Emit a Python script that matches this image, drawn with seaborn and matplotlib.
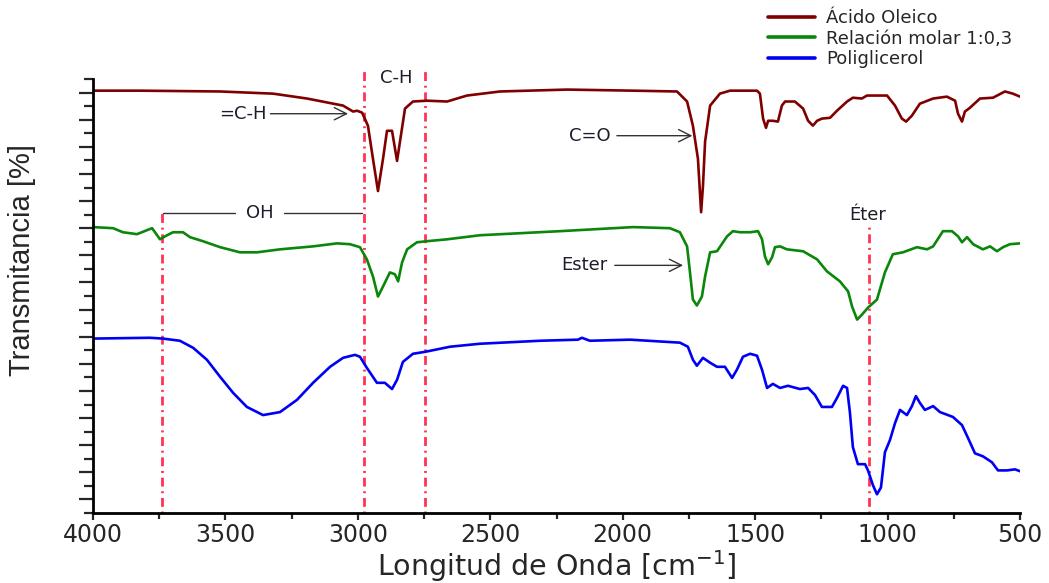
import matplotlib
matplotlib.use("Agg")
import matplotlib.pyplot as plt
from matplotlib.lines import Line2D
from matplotlib.ticker import MultipleLocator
from matplotlib import font_manager
import pandas as pd
import seaborn as sns

# FTIR spectra: wavenumber (cm-1) and stacked transmittance (offset units)
oleico_wn = [4000, 3823, 3520, 3320, 3192, 3056, 3018, 3003, 2984, 2962, 2943, 2924,
             2905, 2890, 2871, 2852, 2841, 2822, 2792, 2739, 2663, 2588, 2463, 2210,
             1961, 1795, 1757, 1735, 1716, 1704, 1697, 1689, 1670, 1633, 1595, 1493,
             1482, 1470, 1459, 1451, 1433, 1414, 1399, 1387, 1350, 1319, 1300, 1282,
             1266, 1248, 1217, 1191, 1153, 1131, 1097, 1078, 1002, 972, 946, 930,
             908, 878, 828, 776, 745, 734, 719, 708, 689, 651, 602, 557, 527, 500]
oleico_t = [15.07, 15.07, 15.04, 14.96, 14.78, 14.52, 14.30, 14.33, 14.26, 13.78, 12.56, 11.37,
            12.56, 13.59, 13.59, 12.48, 13.19, 14.41, 14.67, 14.70, 14.67, 14.89, 15.04, 15.11,
            15.07, 15.04, 14.67, 13.78, 12.56, 10.59, 11.56, 13.19, 14.52, 14.96, 15.07, 15.07,
            14.96, 14.04, 13.70, 13.96, 13.96, 13.93, 14.52, 14.67, 14.67, 14.41, 13.96, 13.78,
            13.96, 14.04, 14.07, 14.33, 14.67, 14.81, 14.78, 14.89, 14.89, 14.52, 14.04, 13.93,
            14.15, 14.59, 14.78, 14.85, 14.70, 14.22, 13.93, 14.30, 14.44, 14.78, 14.81, 15.04, 14.96, 14.85]

relacion_wn = [4000, 3924, 3887, 3834, 3777, 3747, 3728, 3698, 3660, 3634, 3585, 3520,
               3445, 3381, 3294, 3169, 3079, 3030, 2992, 2966, 2943, 2924, 2905, 2879,
               2860, 2848, 2833, 2814, 2777, 2739, 2663, 2539, 2237, 1961, 1822, 1784,
               1757, 1746, 1735, 1720, 1701, 1689, 1670, 1644, 1606, 1584, 1557, 1519,
               1489, 1474, 1463, 1451, 1436, 1425, 1406, 1380, 1319, 1266, 1229, 1180,
               1149, 1134, 1115, 1097, 1074, 1040, 1010, 980, 942, 889, 851, 828,
               791, 757, 734, 719, 700, 677, 640, 613, 587, 564, 538, 500]
relacion_t = [10.04, 10.00, 9.85, 9.78, 10.00, 9.59, 9.70, 9.85, 9.85, 9.67, 9.52, 9.30,
              9.11, 9.11, 9.22, 9.33, 9.44, 9.41, 9.30, 8.85, 8.22, 7.48, 7.85, 8.37,
              8.30, 8.04, 8.74, 9.22, 9.48, 9.52, 9.59, 9.74, 9.89, 10.04, 10.00, 9.85,
              9.33, 8.37, 7.37, 7.15, 7.48, 8.22, 9.11, 9.15, 9.70, 9.89, 9.85, 9.85,
              9.89, 9.59, 8.96, 8.67, 8.93, 9.30, 9.33, 9.22, 9.15, 8.85, 8.41, 8.04,
              7.67, 7.11, 6.63, 6.81, 7.07, 7.37, 8.37, 9.04, 9.11, 9.30, 9.22, 9.33,
              9.89, 9.89, 9.70, 9.48, 9.67, 9.41, 9.22, 9.33, 9.15, 9.30, 9.41, 9.44]

poli_wn = [4000, 3785, 3736, 3672, 3622, 3570, 3520, 3471, 3419, 3358, 3294, 3230,
           3169, 3105, 3056, 3011, 2992, 2966, 2928, 2898, 2871, 2852, 2830, 2792,
           2747, 2652, 2539, 2312, 2169, 2154, 2124, 1972, 1784, 1754, 1735, 1720,
           1697, 1670, 1644, 1614, 1587, 1569, 1546, 1519, 1493, 1474, 1455, 1433,
           1406, 1376, 1331, 1300, 1274, 1248, 1210, 1191, 1168, 1153, 1142, 1131,
           1112, 1085, 1074, 1055, 1040, 1025, 1010, 991, 972, 953, 927, 908,
           893, 878, 859, 828, 802, 753, 719, 696, 670, 640, 606, 583, 549, 519, 500]
poli_t = [5.93, 5.96, 5.93, 5.85, 5.59, 5.15, 4.52, 3.93, 3.41, 3.11, 3.22, 3.67,
          4.30, 4.89, 5.22, 5.33, 5.26, 4.85, 4.30, 4.30, 4.07, 4.41, 5.07, 5.37,
          5.44, 5.63, 5.74, 5.85, 5.89, 5.96, 5.85, 5.89, 5.78, 5.63, 5.15, 4.93,
          5.22, 5.04, 4.89, 4.89, 4.48, 4.78, 5.26, 5.37, 5.30, 4.78, 4.11, 4.26,
          4.11, 4.19, 4.07, 4.11, 3.85, 3.41, 3.41, 3.74, 4.19, 4.11, 3.19, 1.93,
          1.30, 1.30, 1.07, 0.52, 0.19, 0.44, 1.74, 2.19, 2.81, 3.30, 3.11, 3.44,
          3.81, 3.56, 3.30, 3.44, 3.22, 3.04, 2.74, 2.26, 1.70, 1.59, 1.37, 1.07, 1.07, 1.11, 1.04]

series = ["Ácido Oleico", "Relación molar 1:0,3", "Poliglicerol"]
colores = ["#800000", "#0a870a", "#0000f5"]

# Characteristic bands marked with vertical lines (cm-1)
bandas_wn = [3740, 2978, 2745, 1072]

sns.set_style("ticks")
plt.rcParams["font.family"] = ["DejaVu Sans"]

nombres_fuentes = {f.name for f in font_manager.fontManager.ttflist}
narrow = "Liberation Sans Narrow" in nombres_fuentes
fuente_y = "Liberation Sans Narrow" if narrow else "Liberation Sans"

df = pd.concat([
    pd.DataFrame({"wn": oleico_wn, "T": oleico_t, "serie": series[0]}),
    pd.DataFrame({"wn": relacion_wn, "T": relacion_t, "serie": series[1]}),
    pd.DataFrame({"wn": poli_wn, "T": poli_t, "serie": series[2]}),
], ignore_index=True)

fig = plt.figure(figsize=(10.49, 5.83), dpi=100)
ax = fig.add_axes([93 / 1049, 1 - 513 / 583, 927 / 1049, 434 / 583])

sns.lineplot(data=df, x="wn", y="T", hue="serie", hue_order=series,
             palette=colores, estimator=None, sort=False, linewidth=1.9,
             legend=False, ax=ax)

ax.set_xlim(4000, 500)
ax.set_ylim(-0.5, 15.5)

# Band marker lines (dash-dot)
marca = dict(color="#ff3355", lw=2.0, ls=(0, (0.7, 1.7, 3.2, 1.7)), clip_on=False, zorder=1)
topes = [10.56, 15.78, 15.78, 10.04]
for wn, tope in zip(bandas_wn, topes):
    ax.plot([wn, wn], [-0.5, tope], **marca)

# Annotations
txt = dict(fontsize=13, color="#1c1c2c", va="center")
flecha = dict(arrowstyle="->", lw=1.0, color="#333333", mutation_scale=22, shrinkA=0, shrinkB=0)

ax.text(3345, 14.22, "=C-H", ha="right", **txt)
ax.annotate("", xy=(3037, 14.22), xytext=(3330, 14.22), arrowprops=flecha)

ax.text(2855, 15.55, "C-H", ha="center", clip_on=False, **txt)

ax.text(2045, 13.41, "C=O", ha="right", **txt)
ax.annotate("", xy=(1737, 13.41), xytext=(2022, 13.41), arrowprops=flecha)

ax.text(3369, 10.56, "OH", ha="center", **txt)
ax.plot([3736, 3462], [10.56, 10.56], color="#333333", lw=1.0)
ax.plot([3280, 2984], [10.56, 10.56], color="#333333", lw=1.0)

ax.text(2058, 8.63, "Ester", ha="right", **txt)
ax.annotate("", xy=(1772, 8.63), xytext=(2030, 8.63), arrowprops=flecha)

ax.text(1074, 10.5, "Éter", ha="center", **txt)

# Axes styling
for lado in ["top", "right"]:
    ax.spines[lado].set_visible(False)
for lado in ["left", "bottom"]:
    ax.spines[lado].set_linewidth(2.0)
    ax.spines[lado].set_color("black")

ax.xaxis.set_major_locator(MultipleLocator(500))
ax.xaxis.set_minor_locator(MultipleLocator(250))
ax.yaxis.set_major_locator(MultipleLocator(1))
ax.yaxis.set_minor_locator(MultipleLocator(0.5))
ax.tick_params(axis="x", which="major", length=5, width=1.6, labelsize=17, pad=2, direction="out")
ax.tick_params(axis="x", which="minor", length=4, width=1.6, direction="out")
ax.tick_params(axis="y", which="major", length=10, width=1.6, direction="out", labelleft=False)
ax.tick_params(axis="y", which="minor", length=6.5, width=1.6, direction="out")
ax.set_xticks([4000, 3500, 3000, 2500, 2000, 1500, 1000, 500])
ax.set_xticklabels(["4000", "3500", "3000", "2500", "2000", "1500", "1000", "500"])

ax.set_xlabel("Longitud de Onda [cm$^{-1}$]", fontsize=20.5, labelpad=1)
ax.set_ylabel("Transmitancia [%]", fontsize=25 if narrow else 21,
              family=[fuente_y, "DejaVu Sans"])
ax.yaxis.set_label_coords(-0.0615, 0.583)

# Legend
manijas = [Line2D([0], [0], color=c, lw=2.6) for c in colores]
fig.legend(manijas, series, loc="upper left", bbox_to_anchor=(768 / 1049, 1 - 9 / 583),
           frameon=False, fontsize=13, handlelength=2.6, handletextpad=0.6,
           labelspacing=0.15, borderpad=0, borderaxespad=0)

fig.savefig("out.png", dpi=100)
